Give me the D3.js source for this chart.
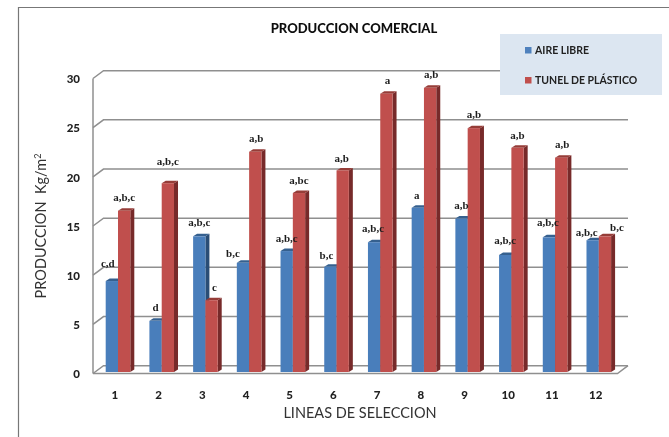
<!DOCTYPE html>
<html>
<head>
<meta charset="utf-8">
<script src="https://cdn.jsdelivr.net/npm/d3@7"></script>
<style>
html, body { margin: 0; padding: 0; background: #fff; }
svg { display: block; }
text { font-family: Lato, "Open Sans", sans-serif; }
</style>
</head>
<body>
<svg id="chart" width="669" height="437"></svg>
<script>
// values
const lineas = ["1","2","3","4","5","6","7","8","9","10","11","12"];
const aireLibre = [9.25,5.2,13.8,11.1,12.3,10.7,13.2,16.7,15.6,11.9,13.7,13.4];
const tunel = [16.4,19.2,7.3,22.4,18.2,20.5,28.3,28.9,24.8,22.8,21.8,13.8];
const aireLetras = ["c,d","d","a,b,c","b,c","a,b,c","b,c","a,b,c","a","a,b","a,b,c","a,b,c","a,b,c"];
const tunelLetras = ["a,b,c","a,b,c","c","a,b","a,bc","a,b","a","a,b","a,b","a,b","a,b","b,c"];
const yTicks = [0,5,10,15,20,25,30];

// hand nudges for the letters, they are not evenly placed in the original
const aireNudgeX = [-4,0,0,-10,0,-4,-1,-1,0,0,-1,-6];
const aireNudgeY = [-14,-10,-10,-6,-9,-8,-10,-9,-10,-11,-11,-4];
const tunelNudgeX = [0,0,3,1,0,-1,1,1,0,0,1,12];
const tunelNudgeY = [-10,-18,-9,-10,-9,-8,-10,-10,-10,-9,-10,-5];

const svg = d3.select("#chart");
const defs = svg.append("defs");
defs.append("filter").attr("id", "soft")
  .attr("x", 0).attr("y", 0).attr("width", 1).attr("height", 1)
  .append("feGaussianBlur").attr("stdDeviation", 0.5);

const g = svg.append("g").attr("filter", "url(#soft)");
g.append("rect").attr("width", 669).attr("height", 437).attr("fill", "#fff");

const x = d3.scaleBand().domain(lineas).range([93, 617.5]);
const y = d3.scaleLinear().domain([0, 30]).range([372, 77]);
const inner = d3.scaleBand().domain(["aire", "tunel"]).range([12.7, 37.3]);

const depthX = 4, depthY = 2.5;    // bar depth
const wallX = 10.5, wallY = 7.8;   // chart wall depth
const front = 1.5;                 // front axis sits a bit below the bar base
const gridColor = "#8f8f8f";

// outer frame of the pasted picture
g.append("path").attr("d", "M18.5,437V7.5H669")
  .attr("fill", "none").attr("stroke", "#777").attr("stroke-width", 1.2);

// gridlines with the small diagonal on the left
const x0 = x.range()[0], x1 = x.range()[1];
yTicks.forEach(t => {
  const yf = y(t) + front;
  g.append("path")
    .attr("d", d3.line()([[x0, yf], [x0 + wallX, yf - wallY], [x1 + wallX, yf - wallY]]))
    .attr("fill", "none").attr("stroke", gridColor).attr("stroke-width", 1.5);
});
g.append("line").attr("x1", x0).attr("x2", x0)
  .attr("y1", y(0) + front).attr("y2", y(30) + front)
  .attr("stroke", gridColor).attr("stroke-width", 1.5);
// floor front edge
g.append("path")
  .attr("d", d3.line()([[x0, y(0) + front], [x1, y(0) + front], [x1 + wallX, y(0) + front - wallY]]))
  .attr("fill", "none").attr("stroke", gridColor).attr("stroke-width", 1.5);

// legend goes over the top gridline
g.append("rect").attr("x", 500).attr("y", 34).attr("width", 162).attr("height", 61).attr("fill", "#dce6f1");
g.append("rect").attr("x", 525).attr("y", 47).attr("width", 6.5).attr("height", 6.5).attr("fill", "#4f81bd");
g.append("rect").attr("x", 525).attr("y", 77).attr("width", 6.5).attr("height", 6.5).attr("fill", "#c0504d");
g.append("text").attr("x", 535).attr("y", 54).text("AIRE LIBRE")
  .attr("font-size", 10.5).attr("font-weight", 700).attr("fill", "#222");
g.append("text").attr("x", 535).attr("y", 84).text("TUNEL DE PLÁSTICO")
  .attr("font-size", 10.5).attr("font-weight", 700).attr("fill", "#222");

function drawBar(key, value, i, main, side, top) {
  const bx = x(lineas[i]) + inner(key);
  const w = inner.bandwidth();
  const yt = y(value), yb = y(0);
  g.append("polygon")
    .attr("points", [[bx + w, yt], [bx + w + depthX, yt - depthY], [bx + w + depthX, yb - depthY], [bx + w, yb]].join(" "))
    .attr("fill", side);
  g.append("polygon")
    .attr("points", [[bx, yt], [bx + depthX, yt - depthY], [bx + w + depthX, yt - depthY], [bx + w, yt]].join(" "))
    .attr("fill", top);
  g.append("rect").attr("x", bx).attr("y", yt).attr("width", w).attr("height", yb - yt).attr("fill", main);
}

lineas.forEach((l, i) => {
  drawBar("aire", aireLibre[i], i, "#4a7ebb", "#2c4d75", "#35608f");
  drawBar("tunel", tunel[i], i, "#c0504d", "#772c2a", "#963c39");
});

// letters above the bars
function drawLetters(key, values, letters, nudgeX, nudgeY) {
  g.append("g").selectAll("text").data(letters).join("text")
    .attr("x", (d, i) => x(lineas[i]) + inner(key) + inner.bandwidth() / 2 + nudgeX[i])
    .attr("y", (d, i) => y(values[i]) + nudgeY[i])
    .attr("text-anchor", "middle")
    .style("font-family", "'Liberation Serif', serif")
    .attr("font-size", 11).attr("font-weight", 700).attr("fill", "#1f1f1f")
    .text(d => d);
}
drawLetters("aire", aireLibre, aireLetras, aireNudgeX, aireNudgeY);
drawLetters("tunel", tunel, tunelLetras, tunelNudgeX, tunelNudgeY);

// axes, only the labels are visible
const yAxis = d3.axisLeft(y).tickValues(yTicks).tickSize(0).tickPadding(0);
const yG = g.append("g").attr("transform", "translate(80," + (front + 0.5) + ")").call(yAxis);
const xAxis = d3.axisBottom(x).tickSize(0).tickPadding(0);
const xG = g.append("g").attr("transform", "translate(0,391)").call(xAxis);
[yG, xG].forEach(a => {
  a.select(".domain").remove();
  a.selectAll("text")
    .style("font-family", "Lato, sans-serif")
    .attr("font-size", 11.5).attr("font-weight", 900).attr("fill", "#222");
});

g.append("text").attr("x", 354).attr("y", 33).attr("text-anchor", "middle")
  .attr("font-size", 13).attr("font-weight", 900).attr("fill", "#111")
  .text("PRODUCCION COMERCIAL");

g.append("text").attr("x", 360).attr("y", 418).attr("text-anchor", "middle")
  .attr("font-size", 14.5).attr("fill", "#333")
  .text("LINEAS DE SELECCION");

const yTitle = g.append("text").attr("transform", "translate(46,226) rotate(-90)")
  .attr("text-anchor", "middle").attr("font-size", 14.5).attr("fill", "#333")
  .attr("xml:space", "preserve");
yTitle.append("tspan").text("PRODUCCION  Kg/m");
yTitle.append("tspan").attr("dy", -5).attr("font-size", 9).text("2");
</script>
</body>
</html>
